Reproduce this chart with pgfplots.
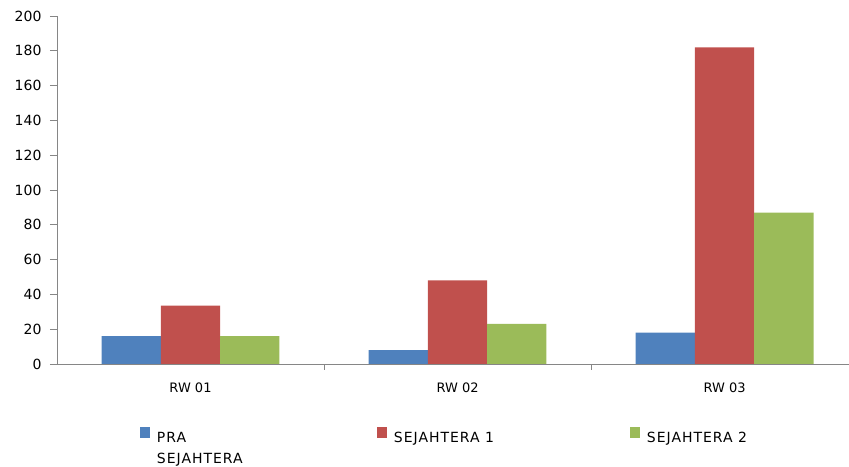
\documentclass[border=0pt]{standalone}
\usepackage{fontspec}
\setmainfont{DejaVu Sans}
\newfontfamily\legfont[LetterSpace=7]{DejaVu Sans}
\usepackage{pgfplots}
\pgfplotsset{compat=1.18}
\definecolor{cBlue}{HTML}{4F81BD}
\definecolor{cRed}{HTML}{C0504D}
\definecolor{cGreen}{HTML}{9BBB59}
\definecolor{cAxis}{HTML}{868686}

\begin{document}
\begin{tikzpicture}
\begin{axis}[
  scale only axis, width=792pt, height=348pt,
  xmin=-0.5, xmax=2.466, ymin=0, ymax=200,
  ybar=0pt, bar width=59.3pt,
  axis x line*=bottom, axis y line*=left,
  axis line style={cAxis, line width=0.9pt, -},
  tick style={cAxis, line width=0.9pt},
  tick align=outside, tick pos=left,
  major tick length=7pt, minor tick length=6pt,
  ytick={0,20,...,200},
  xtick={0,1,2}, xticklabels={RW 01,RW 02,RW 03},
  minor xtick={0.5,1.5},
  major x tick style={draw=none},
  yticklabel style={font=\fontsize{14}{16}\selectfont, xshift=-5pt},
  xticklabel style={font=\fontsize{13}{15}\selectfont, yshift=-8pt},
  /pgf/number format/assume math mode=true,
  legend columns=3,
  legend cell align=left,
  legend image code/.code={\fill[#1] (0pt,-0.5pt) rectangle (10pt,10.5pt); \path (17pt,0pt);},
  legend style={draw=none, fill=none, inner sep=0pt, outer sep=0pt,
    at={(axis description cs:0.1048,-0.182)}, anchor=north west,
    nodes={inner sep=0pt, outer sep=0pt},
    /tikz/every even column/.append style={column sep=0pt},
    font=\fontsize{14}{21}\legfont},
]
\addplot[fill=cBlue, draw=none] coordinates {(0,16) (1,8) (2,18)};
\addplot[fill=cRed, draw=none] coordinates {(0,33.5) (1,48) (2,182)};
\addplot[fill=cGreen, draw=none] coordinates {(0,16) (1,23) (2,87)};
\addlegendentry{\parbox[t]{220pt}{\baselineskip=21pt PRA\\SEJAHTERA}}
\addlegendentry{\parbox[t]{236pt}{SEJAHTERA 1}}
\addlegendentry{\parbox[t]{200pt}{SEJAHTERA 2}}
\end{axis}
\pgfresetboundingbox
\path (current axis.south west) ++(-57pt,-103pt) coordinate (bbA);
\path (current axis.north east) ++(0pt,16pt) coordinate (bbB);
\path[use as bounding box] (bbA) rectangle (bbB);
\end{tikzpicture}
\end{document}
